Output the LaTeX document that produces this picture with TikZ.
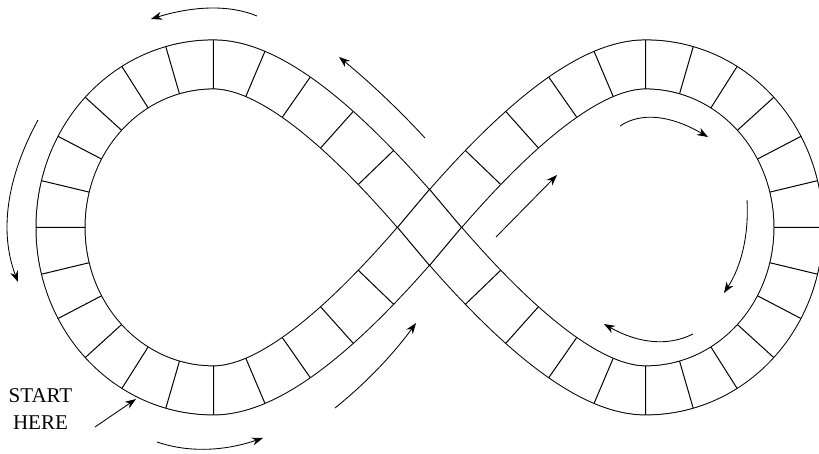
\documentclass[tikz,border=0pt]{standalone}
\usepackage{fontspec}
\setmainfont{Liberation Serif}
\usetikzlibrary{decorations.markings,arrows.meta}
\begin{document}
\begin{tikzpicture}[x=1pt,y=-1pt,
  track/.style={line width=1pt, double=white, double distance=48pt},
  edge/.style={line width=1pt, line join=miter},
  flow/.style={line width=0.85pt, -{Stealth[length=11pt,width=8pt]}},
  rungsin/.style={decorate, decoration={markings,
      mark=at position 0.29 with {\trackrung},
      mark=at position 0.486 with {\trackrung},
      mark=at position 0.674 with {\trackrung},
      mark=at position 0.844 with {\trackrung}}},
  rungsout/.style={decorate, decoration={markings,
      mark=at position 0 with {\trackrung},
      mark=at position 0.156 with {\trackrung},
      mark=at position 0.326 with {\trackrung},
      mark=at position 0.514 with {\trackrung},
      mark=at position 0.71 with {\trackrung}}},
  rungslobe/.style={decorate, decoration={markings,
      mark=at position 0 with {\trackrung},
      mark=at position 0.1667 with {\trackrung},
      mark=at position 0.3333 with {\trackrung},
      mark=at position 0.5 with {\trackrung},
      mark=at position 0.6667 with {\trackrung},
      mark=at position 0.8333 with {\trackrung}}},
]
\def\trackrung{\draw[line width=1pt] (0pt,-24.5pt) -- (0pt,24.5pt);}
\useasboundingbox (0,0) rectangle (819,454);

\begin{scope}[shift={(429.5,227.4)}]
  \coordinate (C) at (0,0);
  \coordinate (T1) at (-216,-163);
  \coordinate (L) at (-369,0);
  \coordinate (B1) at (-216,163);
  \coordinate (T2) at (216,-163);
  \coordinate (R) at (369,0);
  \coordinate (B2) at (216,163);
  \coordinate (dT) at (0,-38.1);
  \coordinate (dR) at (32,0);
  \coordinate (dB) at (0,38.1);
  \coordinate (dL) at (-32,0);

  % the two edges of the track
  \draw[track] (C) .. controls (-96.5,-114.9) and (-166,-163) .. (T1)
     .. controls (-301.6,-163) and (-369,-90) .. (L)
     .. controls (-369,90) and (-301.6,163) .. (B1)
     .. controls (-166,163) and (-96.5,114.9) .. (C)
     .. controls (96.5,-114.9) and (166,-163) .. (T2)
     .. controls (301.6,-163) and (369,-90) .. (R)
     .. controls (369,90) and (301.6,163) .. (B2)
     .. controls (166,163) and (96.5,114.9) .. cycle;

  % the crossing square
  \draw[edge] (dT) -- (dR) -- (dB) -- (dL) -- cycle;

  % the cells
  \path[rungsin] (C) .. controls (-96.5,-114.9) and (-166,-163) .. (T1);
  \path[rungslobe] (T1) .. controls (-301.6,-163) and (-369,-90) .. (L);
  \path[rungslobe] (L) .. controls (-369,90) and (-301.6,163) .. (B1);
  \path[rungsout] (B1) .. controls (-166,163) and (-96.5,114.9) .. (C);
  \path[rungsin] (C) .. controls (96.5,-114.9) and (166,-163) .. (T2);
  \path[rungslobe] (T2) .. controls (301.6,-163) and (369,-90) .. (R);
  \path[rungslobe] (R) .. controls (369,90) and (301.6,163) .. (B2);
  \path[rungsout] (B2) .. controls (166,163) and (96.5,114.9) .. (C);
\end{scope}

% direction arrows
\coordinate (a1s) at (257,16);  \coordinate (a1e) at (151,19);
\coordinate (a2s) at (425,138); \coordinate (a2e) at (339,57);
\coordinate (a3s) at (38,120);  \coordinate (a3e) at (18,282);
\coordinate (a5s) at (157,442); \coordinate (a5e) at (263,438);
\coordinate (a6s) at (335,408); \coordinate (a6e) at (416,323);
\coordinate (a7s) at (496,237); \coordinate (a7e) at (557,175);
\coordinate (a8s) at (620,126); \coordinate (a8e) at (708,137);
\coordinate (a9s) at (747,200); \coordinate (a9e) at (724,293);
\coordinate (a10s) at (693,334); \coordinate (a10e) at (604,324);

\draw[flow] (a1s) .. controls (229.7,4.7) and (194.3,5.7) .. (a1e);
\draw[flow] (a2s) .. controls (398.3,109.1) and (369.7,82.1) .. (a2e);
\draw[flow] (a3s) .. controls (6,178.7) and (-0.7,232.7) .. (a3e);
\draw[flow] (a5s) .. controls (188.3,452.7) and (223.7,451.3) .. (a5e);
\draw[flow] (a6s) .. controls (365.7,383.3) and (392.7,355) .. (a6e);
\draw[flow] (a7s) -- (a7e);
\draw[flow] (a8s) .. controls (641.3,111.7) and (670.7,115.3) .. (a8e);
\draw[flow] (a9s) .. controls (749,235.3) and (741.3,266.3) .. (a9e);
\draw[flow] (a10s) .. controls (667.7,346.7) and (638,343.3) .. (a10e);

% start label
\node[align=center, font=\fontsize{21}{27}\selectfont, inner sep=0pt] (start) at (40.5,409) {START\\HERE};
\coordinate (sa) at (95,427);
\coordinate (sb) at (136,399);
\draw[flow] (sa) -- (sb);
\end{tikzpicture}
\end{document}
